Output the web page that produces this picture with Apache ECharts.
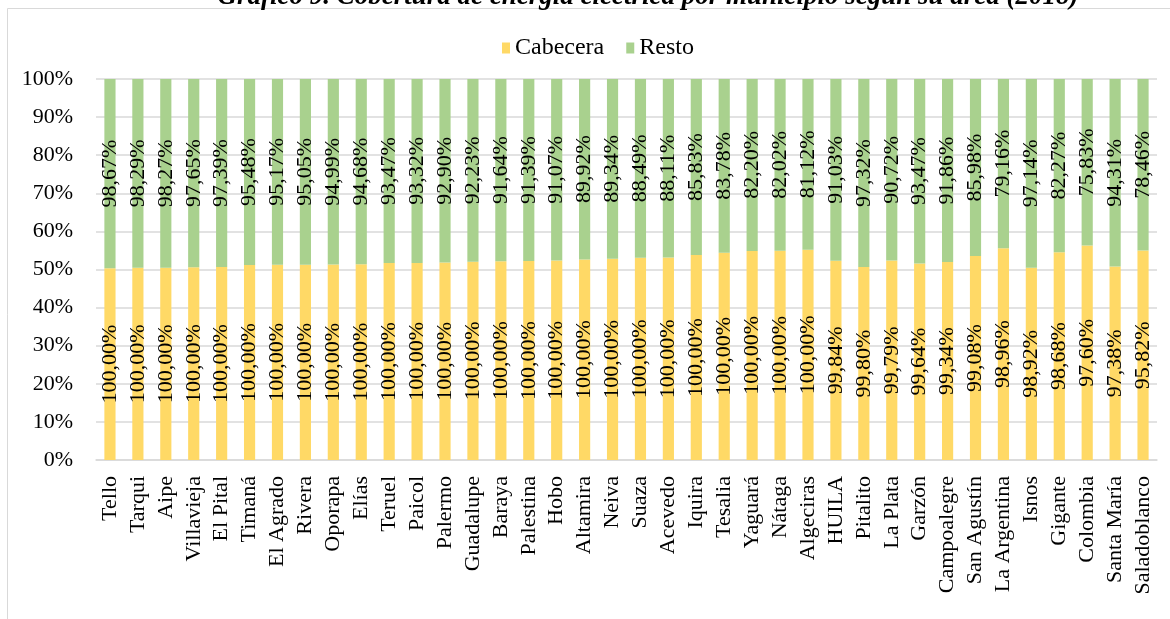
<!DOCTYPE html>
<html>
<head>
<meta charset="utf-8">
<script src="https://cdn.jsdelivr.net/npm/echarts@6/dist/echarts.min.js"></script>
<style>
html,body{margin:0;padding:0;background:#fff;}
#c{width:1170px;height:619px;}
</style>
</head>
<body>
<div id="c"></div>
<script>
const titleText = 'Gráfico 9. Cobertura de energía eléctrica por municipio según su área (2018)';
const categories = ['Tello','Tarqui','Aipe','Villavieja','El Pital','Timaná','El Agrado','Rivera','Oporapa','Elías','Teruel','Paicol','Palermo','Guadalupe','Baraya','Palestina','Hobo','Altamira','Neiva','Suaza','Acevedo','Iquira','Tesalia','Yaguará','Nátaga','Algeciras','HUILA','Pitalito','La Plata','Garzón','Campoalegre','San Agustín','La Argentina','Isnos','Gigante','Colombia','Santa María','Saladoblanco'];
const cabecera = [100,100,100,100,100,100,100,100,100,100,100,100,100,100,100,100,100,100,100,100,100,100,100,100,100,100,99.84,99.80,99.79,99.64,99.34,99.08,98.96,98.92,98.68,97.60,97.38,95.82];
const resto = [98.67,98.29,98.27,97.65,97.39,95.48,95.17,95.05,94.99,94.68,93.47,93.32,92.90,92.23,91.64,91.39,91.07,89.92,89.34,88.49,88.11,85.83,83.78,82.20,82.02,81.12,91.03,97.32,90.72,93.47,91.86,85.98,79.16,97.14,82.27,75.83,94.31,78.46];
const seriesNames = ['Cabecera','Resto'];
const yTicks = [0,10,20,30,40,50,60,70,80,90,100];

const FONT = '"Liberation Serif","Times New Roman",serif';
const fmt = v => v.toFixed(2).replace('.', ',') + '%';
// 100% stacked shares
const cabShare = cabecera.map((v,i) => ({value: 100 * v / (v + resto[i]), raw: v}));
const restoShare = resto.map((v,i) => ({value: 100 * v / (cabecera[i] + v), raw: v}));

const chart = echarts.init(document.getElementById('c'), null, {renderer:'canvas'});
const labelCfg = {
  show: true, position: 'inside', rotate: 90,
  fontFamily: FONT, fontSize: 22, color: '#000',
  formatter: p => fmt(p.data.raw)
};
chart.setOption({
  animation: false,
  backgroundColor: '#fff',
  textStyle: {fontFamily: FONT},
  graphic: [
    {type:'rect', shape:{x:7.5, y:8.5, width:1200, height:700}, style:{fill:'none', stroke:'#d9d9d9', lineWidth:1}, silent:true, z:-1},
    {type:'text', x:648, y:-3, style:{text:titleText, fontFamily:FONT, fontSize:27, fontWeight:'bold', fontStyle:'italic', fill:'#000', textAlign:'center', textVerticalAlign:'middle'}}
  ],
  legend: {
    top: 31, left: 497, itemWidth: 8, itemHeight: 11, itemGap: 22,
    icon: 'rect',
    textStyle: {fontFamily: FONT, fontSize: 24, color: '#000', padding:[0,0,0,0]},
    data: seriesNames
  },
  grid: {left: 96, right: 13, top: 79, bottom: 159, containLabel: false},
  xAxis: {
    type: 'category', data: categories,
    axisLine: {lineStyle: {color: '#d9d9d9', width: 1.5}},
    axisTick: {show: false},
    axisLabel: {rotate: 90, interval: 0, fontFamily: FONT, fontSize: 22, color: '#000', margin: 16}
  },
  yAxis: {
    type: 'value', min: 0, max: 100, interval: 10,
    axisLine: {show: false}, axisTick: {show: false},
    splitLine: {lineStyle: {color: '#d9d9d9', width: 1.5}},
    axisLabel: {fontFamily: FONT, fontSize: 22, color: '#000', margin: 23,
      formatter: v => yTicks.indexOf(v) >= 0 ? v + '%' : ''}
  },
  series: [
    {name: seriesNames[0], type: 'bar', stack: 's', data: cabShare, barWidth: '40%',
     itemStyle: {color: '#FFD966'}, label: labelCfg},
    {name: seriesNames[1], type: 'bar', stack: 's', data: restoShare, barWidth: '40%',
     itemStyle: {color: '#A9D18E'}, label: labelCfg}
  ]
});
</script>
</body>
</html>
